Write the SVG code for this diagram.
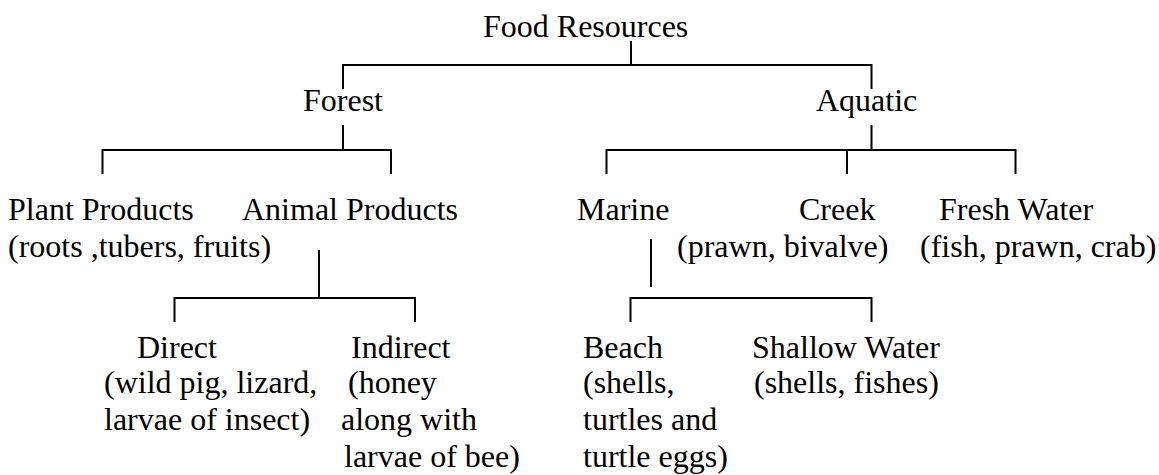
<svg xmlns="http://www.w3.org/2000/svg" width="1159" height="475" viewBox="0 0 1159 475">
<style>
text{font-family:"Liberation Serif","Times New Roman",serif;font-size:32px;fill:#000}
.c path{fill:none;stroke:#000;stroke-width:2}
</style>
<rect width="1159" height="475" fill="#fff"/>
<g class="c" id="connectors">
<path d="M631,41 V65"/>
<path d="M343,89 V65 H871.5 V89"/>
<path d="M343,125 V150"/>
<path d="M102.5,174 V150 H391 V174"/>
<path d="M871.5,125 V150"/>
<path d="M606.5,174 V150 H1015.5 V174"/>
<path d="M847,150 V174"/>
<path d="M319,250 V298"/>
<path d="M174.5,322 V298 H415 V322"/>
<path d="M651,239 V287"/>
<path d="M630.5,322 V298 H871.5 V322"/>
</g>
<g id="food"><text x="483" y="37">Food Resources</text></g>
<g id="forest"><text x="303" y="111">Forest</text></g>
<g id="aquatic"><text x="816" y="111">Aquatic</text></g>
<g id="plant"><text x="8" y="220">Plant Products</text><text x="8" y="257">(roots ,tubers, fruits)</text></g>
<g id="animal"><text x="242" y="220">Animal Products</text></g>
<g id="marine"><text x="577" y="220">Marine</text></g>
<g id="creek"><text x="799" y="220">Creek</text><text x="677" y="257">(prawn, bivalve)</text></g>
<g id="fresh"><text x="939" y="220">Fresh Water</text><text x="920" y="257">(fish, prawn, crab)</text></g>
<g id="direct"><text x="137" y="358">Direct</text><text x="104" y="393">(wild pig, lizard,</text><text x="104" y="430">larvae of insect)</text></g>
<g id="indirect"><text x="351" y="358">Indirect</text><text x="348" y="393">(honey</text><text x="341" y="430">along with</text><text x="344" y="467">larvae of bee)</text></g>
<g id="beach"><text x="583" y="358">Beach</text><text x="583" y="393">(shells,</text><text x="583" y="430">turtles and</text><text x="583" y="467">turtle eggs)</text></g>
<g id="shallow"><text x="752" y="358">Shallow Water</text><text x="754" y="393">(shells, fishes)</text></g>
</svg>
